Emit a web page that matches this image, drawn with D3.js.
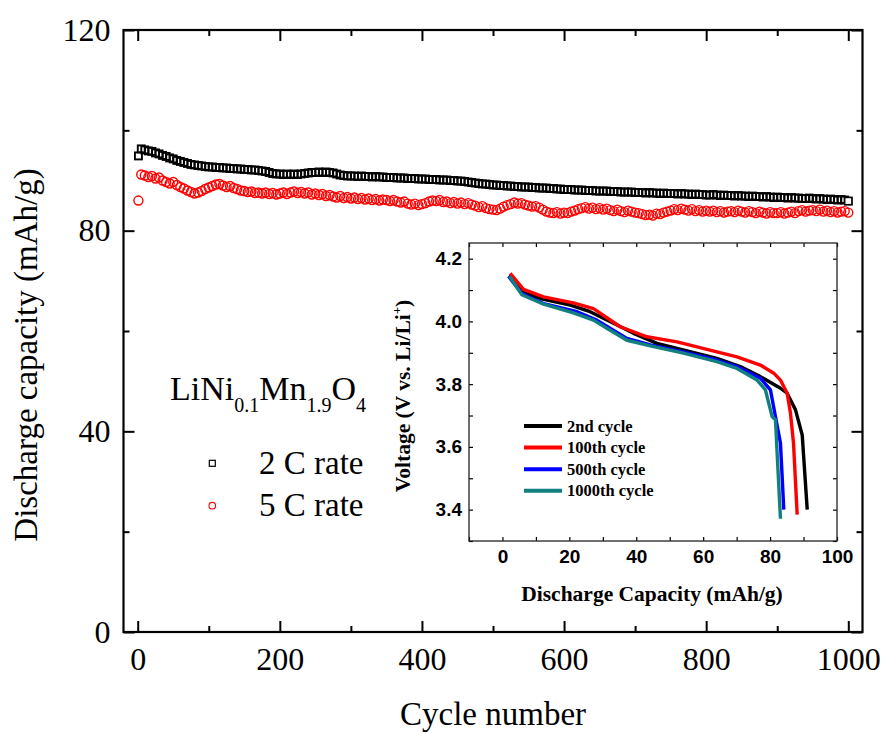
<!DOCTYPE html>
<html>
<head>
<meta charset="utf-8">
<script src="https://cdn.jsdelivr.net/npm/d3@7/dist/d3.min.js"></script>
<style>
  html, body { margin: 0; padding: 0; background: #fff; }
  svg { display: block; }
</style>
</head>
<body>
<svg id="chart" width="884" height="733"></svg>
<script>
// ---- Cycling data: discharge capacity (mAh/g), sampled at cycle 1 and every 5th cycle ----
const cycles = [1].concat(d3.range(5, 1001, 5));

const rate2C = [
  94.9,
  96.3, 96.1, 95.9, 95.8, 95.5, 95.3, 95.0, 94.8, 94.5, 94.3,
  94.0, 93.8, 93.6, 93.4, 93.2, 93.1, 93.0, 92.9, 92.8, 92.7,
  92.7, 92.6, 92.6, 92.5, 92.5, 92.4, 92.4, 92.3, 92.3, 92.2,
  92.2, 92.1, 92.1, 92.0, 91.9, 91.8, 91.6, 91.4, 91.3, 91.3,
  91.2, 91.3, 91.2, 91.3, 91.2, 91.3, 91.4, 91.5, 91.6, 91.6,
  91.7, 91.6, 91.7, 91.6, 91.5, 91.3, 91.1, 91.0, 90.9, 90.9,
  90.9, 90.8, 90.9, 90.8, 90.8, 90.7, 90.8, 90.7, 90.7, 90.6,
  90.6, 90.6, 90.5, 90.5, 90.5, 90.4, 90.4, 90.4, 90.3, 90.3,
  90.3, 90.2, 90.2, 90.2, 90.1, 90.1, 90.1, 90.0, 90.0, 89.9,
  89.9, 89.8, 89.7, 89.6, 89.5, 89.4, 89.3, 89.3, 89.2, 89.1,
  89.1, 89.0, 89.0, 88.9, 88.9, 88.8, 88.8, 88.7, 88.7, 88.7,
  88.6, 88.6, 88.5, 88.5, 88.5, 88.4, 88.4, 88.3, 88.3, 88.2,
  88.2, 88.2, 88.1, 88.1, 88.1, 88.0, 88.0, 88.0, 87.9, 87.9,
  87.9, 87.9, 87.8, 87.8, 87.8, 87.7, 87.7, 87.7, 87.7, 87.6,
  87.6, 87.6, 87.5, 87.6, 87.5, 87.5, 87.4, 87.5, 87.4, 87.4,
  87.4, 87.3, 87.4, 87.3, 87.3, 87.2, 87.3, 87.2, 87.2, 87.1,
  87.1, 87.2, 87.1, 87.0, 87.1, 87.0, 87.0, 86.9, 87.0, 86.9,
  86.9, 86.8, 86.9, 86.8, 86.8, 86.7, 86.8, 86.7, 86.6, 86.7,
  86.6, 86.6, 86.5, 86.6, 86.5, 86.5, 86.4, 86.4, 86.5, 86.4,
  86.3, 86.4, 86.3, 86.2, 86.3, 86.2, 86.1, 86.2, 86.1, 85.9
];

const rate5C = [
  86.0,
  91.2, 91.0, 90.7, 90.9, 90.4, 90.6, 90.0, 89.7, 89.4, 89.7,
  89.1, 88.7, 88.4, 88.0, 87.7, 87.4, 87.6, 87.9, 88.3, 88.6,
  88.9, 89.2, 89.3, 89.0, 88.7, 88.9, 88.5, 88.3, 88.0, 87.9,
  87.7, 87.8, 87.5, 87.6, 87.4, 87.6, 87.3, 87.5, 87.2, 87.4,
  87.6, 87.3, 87.6, 87.8, 87.5, 87.7, 87.4, 87.6, 87.2, 87.4,
  87.1, 87.3, 86.9, 87.1, 86.8, 86.6, 86.9, 86.5, 86.7, 86.4,
  86.6, 86.3, 86.5, 86.2, 86.4, 86.1, 86.3, 86.0, 86.2, 86.1,
  85.9, 86.1, 85.8, 85.6, 85.8, 85.4, 85.2, 85.4, 85.1, 85.3,
  85.5, 85.8, 86.0, 85.9, 86.1, 85.7, 85.8, 85.5, 85.7, 85.4,
  85.6, 85.3, 85.5, 85.2, 85.0, 84.7, 84.9, 84.5, 84.3, 84.2,
  84.1, 84.4, 84.8, 85.1, 85.3, 85.6, 85.4, 85.5, 85.2, 85.0,
  84.8, 84.9, 84.6, 84.2, 83.8, 83.6, 83.5, 83.7, 83.4, 83.6,
  83.5, 83.8, 84.0, 84.3, 84.5, 84.7, 84.4, 84.6, 84.3, 84.5,
  84.2, 84.4, 84.1, 83.9, 84.2, 83.9, 83.7, 84.0, 83.8, 83.6,
  83.5, 83.3, 83.1, 83.2, 83.0, 83.4, 83.3, 83.6, 83.8, 84.0,
  84.3, 84.1, 84.4, 84.2, 84.0, 84.3, 83.9, 84.1, 83.8, 84.0,
  83.8, 84.0, 83.7, 83.9, 83.6, 83.8, 83.9, 83.7, 84.0, 83.8,
  83.6, 83.9, 83.7, 83.5, 83.8, 83.6, 83.4, 83.7, 83.5, 83.5,
  83.7, 83.4, 83.6, 83.8, 83.5, 83.9, 84.1, 83.8, 84.0, 84.1,
  83.9, 84.2, 83.8, 84.0, 83.7, 83.9, 83.6, 83.8, 83.9, 83.6
];

const mainXTicks = [0, 200, 400, 600, 800, 1000];
const mainXMinor = [100, 300, 500, 700, 900];
const mainYTicks = [0, 40, 80, 120];
const mainYMinor = [20, 60, 100];

// ---- Inset: discharge voltage profiles ----
const cycleNames = ["2nd cycle", "100th cycle", "500th cycle", "1000th cycle"];
const cycleColors = ["#000000", "#ff0000", "#0000ff", "#128080"];

const cap2nd   = [2.1, 5.8, 11.3, 20.3, 26.2, 33.2, 39.2, 46.2, 52.2, 64.1, 71.1, 77.1, 83.1, 85.1, 87.6, 89.6, 91.1];
const volt2nd  = [4.147, 4.094, 4.073, 4.052, 4.031, 3.994, 3.962, 3.930, 3.914, 3.882, 3.856, 3.824, 3.787, 3.771, 3.718, 3.638, 3.400];
const cap100   = [2.3, 6.3, 12.3, 21.2, 27.2, 35.2, 43.2, 52.2, 64.1, 70.1, 77.1, 81.1, 83.1, 85.1, 86.1, 87.0, 88.1];
const volt100  = [4.153, 4.102, 4.078, 4.059, 4.041, 3.983, 3.951, 3.935, 3.903, 3.887, 3.861, 3.835, 3.813, 3.771, 3.707, 3.612, 3.384];
const cap500   = [1.8, 5.8, 12.3, 22.3, 28.2, 37.2, 44.2, 54.1, 64.1, 70.1, 77.1, 80.1, 81.6, 83.1, 84.1];
const volt500  = [4.144, 4.089, 4.057, 4.031, 4.004, 3.946, 3.925, 3.903, 3.877, 3.856, 3.819, 3.782, 3.697, 3.612, 3.400];
const cap1000  = [2.1, 5.8, 12.3, 21.2, 27.2, 31.2, 37.2, 44.2, 54.1, 64.1, 70.1, 76.1, 78.6, 80.6, 81.6, 83.1];
const volt1000 = [4.144, 4.085, 4.055, 4.027, 4.004, 3.978, 3.940, 3.922, 3.899, 3.872, 3.850, 3.813, 3.782, 3.697, 3.686, 3.371];

const insetXTicks = [0, 20, 40, 60, 80, 100];
const insetXMinor = [-10, 10, 30, 50, 70, 90];
const insetYTicks = [3.4, 3.6, 3.8, 4.0, 4.2];
const insetYMinor = [3.3, 3.5, 3.7, 3.9, 4.1];

// ---- Drawing ----
const svg = d3.select("#chart");
const serif = "'Liberation Serif', 'Times New Roman', serif";
const sans = "'Liberation Sans', Arial, sans-serif";

const frame = { left: 123.5, right: 862.5, top: 30, bottom: 632 };
const x = d3.scaleLinear().domain([-20, 1020]).range([frame.left, frame.right]);
const y = d3.scaleLinear().domain([0, 120]).range([frame.bottom, frame.top]);

function styleAxis(g, font, size, weight, width) {
  g.select(".domain").remove();
  g.selectAll(".tick line").attr("stroke", "#000").attr("stroke-width", width);
  g.selectAll(".tick text")
    .attr("font-family", font).attr("font-size", size)
    .attr("font-weight", weight).attr("fill", "#000");
}

// one axis with labelled major ticks and unlabelled minor ticks, both pointing inward
function tickedAxis(axisFn, scale, transform, majors, minors, opts) {
  const gMaj = svg.append("g").attr("transform", transform);
  const a = axisFn(scale).tickValues(majors).tickSize(-opts.major).tickPadding(opts.pad || 3);
  a.tickFormat(opts.labels ? opts.format : () => "");
  gMaj.call(a);
  styleAxis(gMaj, opts.font, opts.size || 0, opts.weight || "normal", opts.width);
  const gMin = svg.append("g").attr("transform", transform);
  gMin.call(axisFn(scale).tickValues(minors).tickSize(-opts.minor).tickFormat(() => ""));
  styleAxis(gMin, opts.font, 0, "normal", opts.width);
}

const mainOpts = { font: serif, size: 32, major: 11, minor: 6, width: 2, format: d3.format("d") };
tickedAxis(d3.axisBottom, x, `translate(0,${frame.bottom})`, mainXTicks, mainXMinor, { ...mainOpts, labels: true, pad: 15 });
tickedAxis(d3.axisTop, x, `translate(0,${frame.top})`, mainXTicks, mainXMinor, { ...mainOpts, labels: false });
tickedAxis(d3.axisLeft, y, `translate(${frame.left},0)`, mainYTicks, mainYMinor, { ...mainOpts, labels: true, pad: 13 });
tickedAxis(d3.axisRight, y, `translate(${frame.right},0)`, mainYTicks, mainYMinor, { ...mainOpts, labels: false });

// 5 C rate: open red circles
svg.append("g").selectAll("circle")
  .data(cycles.map((c, i) => [c, rate5C[i]]))
  .join("circle")
  .attr("cx", d => x(d[0])).attr("cy", d => y(d[1])).attr("r", 4.5)
  .attr("fill", "none").attr("stroke", "#ff0000").attr("stroke-width", 1.4);

// 2 C rate: open black squares
const sq = 7;
svg.append("g").selectAll("rect")
  .data(cycles.map((c, i) => [c, rate2C[i]]))
  .join("rect")
  .attr("x", d => x(d[0]) - sq / 2).attr("y", d => y(d[1]) - sq / 2)
  .attr("width", sq).attr("height", sq)
  .attr("fill", "none").attr("stroke", "#000").attr("stroke-width", 1.9);

// last point drawn open on top
svg.append("rect")
  .attr("x", x(cycles[cycles.length - 1]) - sq / 2).attr("y", y(rate2C[rate2C.length - 1]) - sq / 2)
  .attr("width", sq).attr("height", sq)
  .attr("fill", "#fff").attr("stroke", "#000").attr("stroke-width", 1.3);

// frame of main plot
svg.append("rect")
  .attr("x", frame.left).attr("y", frame.top)
  .attr("width", frame.right - frame.left).attr("height", frame.bottom - frame.top)
  .attr("fill", "none").attr("stroke", "#000").attr("stroke-width", 2.2);

// axis titles
svg.append("text")
  .attr("x", 493).attr("y", 725).attr("text-anchor", "middle")
  .attr("font-family", serif).attr("font-size", 33).text("Cycle number");
svg.append("text")
  .attr("transform", "translate(37,355) rotate(-90)").attr("text-anchor", "middle")
  .attr("font-family", serif).attr("font-size", 33).text("Discharge capacity (mAh/g)");

// legend with material formula
const formula = svg.append("text")
  .attr("x", 170).attr("y", 400)
  .attr("font-family", serif).attr("font-size", 34);
formula.append("tspan").text("LiNi");
formula.append("tspan").attr("font-size", 20).attr("dy", 12).text("0.1");
formula.append("tspan").attr("dy", -12).text("Mn");
formula.append("tspan").attr("font-size", 20).attr("dy", 12).text("1.9");
formula.append("tspan").attr("dy", -12).text("O");
formula.append("tspan").attr("font-size", 20).attr("dy", 12).text("4");

svg.append("rect").attr("x", 209.3).attr("y", 460.3).attr("width", 6).attr("height", 6)
  .attr("fill", "none").attr("stroke", "#000").attr("stroke-width", 1.2);
svg.append("circle").attr("cx", 212.3).attr("cy", 505.7).attr("r", 3.3)
  .attr("fill", "none").attr("stroke", "#ff0000").attr("stroke-width", 1.1);
svg.append("text").attr("x", 259).attr("y", 474)
  .attr("font-family", serif).attr("font-size", 33).text("2 C rate");
svg.append("text").attr("x", 259).attr("y", 515.5)
  .attr("font-family", serif).attr("font-size", 33).text("5 C rate");

// ---- Inset ----
const inset = { left: 469, right: 837, top: 243, bottom: 541 };
const ix = d3.scaleLinear().domain([-10, 100]).range([inset.left, inset.right]);
const iy = d3.scaleLinear().domain([3.3, 4.25]).range([inset.bottom, inset.top]);

svg.append("rect")
  .attr("x", inset.left).attr("y", inset.top)
  .attr("width", inset.right - inset.left).attr("height", inset.bottom - inset.top)
  .attr("fill", "#fff").attr("stroke", "none");

const insetOpts = { font: sans, size: 19, weight: "bold", major: 4, minor: 4, width: 1.2 };
tickedAxis(d3.axisBottom, ix, `translate(0,${inset.bottom})`, insetXTicks, insetXMinor,
  { ...insetOpts, labels: true, pad: 9, format: d3.format("d") });
tickedAxis(d3.axisTop, ix, `translate(0,${inset.top})`, insetXTicks, insetXMinor, { ...insetOpts, labels: false });
tickedAxis(d3.axisLeft, iy, `translate(${inset.left},0)`, insetYTicks, insetYMinor,
  { ...insetOpts, labels: true, pad: 7, format: d3.format(".1f") });
tickedAxis(d3.axisRight, iy, `translate(${inset.right},0)`, insetYTicks, insetYMinor, { ...insetOpts, labels: false });

const profiles = [
  { caps: cap2nd, volts: volt2nd },
  { caps: cap100, volts: volt100 },
  { caps: cap500, volts: volt500 },
  { caps: cap1000, volts: volt1000 }
];
const line = d3.line().x(d => ix(d[0])).y(d => iy(d[1]));
svg.append("g").selectAll("path")
  .data(profiles)
  .join("path")
  .attr("d", p => line(p.caps.map((c, i) => [c, p.volts[i]])))
  .attr("fill", "none")
  .attr("stroke", (p, i) => cycleColors[i])
  .attr("stroke-width", 3.4)
  .attr("stroke-linejoin", "round");

svg.append("rect")
  .attr("x", inset.left).attr("y", inset.top)
  .attr("width", inset.right - inset.left).attr("height", inset.bottom - inset.top)
  .attr("fill", "none").attr("stroke", "#222").attr("stroke-width", 1.3);

// inset legend
const leg = svg.append("g");
cycleNames.forEach((name, i) => {
  const yy = 426 + i * 21.6;
  leg.append("line").attr("x1", 524).attr("x2", 562).attr("y1", yy).attr("y2", yy)
    .attr("stroke", cycleColors[i]).attr("stroke-width", 4);
  leg.append("text").attr("x", 567).attr("y", yy + 5.5)
    .attr("font-family", serif).attr("font-weight", "bold").attr("font-size", 16.5)
    .text(name);
});

// inset axis titles
svg.append("text")
  .attr("x", 652).attr("y", 601).attr("text-anchor", "middle")
  .attr("font-family", serif).attr("font-weight", "bold").attr("font-size", 21.5)
  .text("Discharge Capacity (mAh/g)");
const vt = svg.append("text")
  .attr("transform", "translate(410,396) rotate(-90)").attr("text-anchor", "middle")
  .attr("font-family", serif).attr("font-weight", "bold").attr("font-size", 21.5);
vt.append("tspan").text("Voltage (V vs. Li/Li");
vt.append("tspan").attr("font-size", 13).attr("dy", -9).text("+");
vt.append("tspan").attr("dy", 9).text(")");
</script>
</body>
</html>
